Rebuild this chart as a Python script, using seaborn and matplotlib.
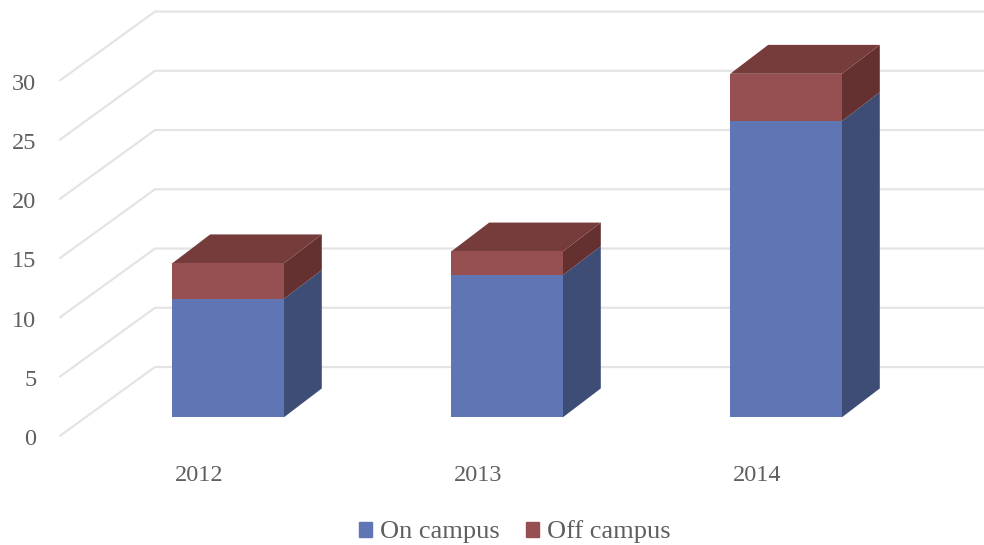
import numpy as np
import pandas as pd
import seaborn as sns
import matplotlib.pyplot as plt
from matplotlib.patches import Patch

years = ['2012', '2013', '2014']
on_campus = [10, 12, 25]
off_campus = [3, 2, 4]
y_ticks = [0, 5, 10, 15, 20, 25, 30]

blue, blue_side = '#5f75b4', '#3e4d76'
red, red_side, red_top = '#965052', '#643130', '#763c3c'
grid_col = '#e4e4e4'
text_col = '#5f5f5f'

sns.set_theme(style='white')
plt.rcParams['font.family'] = ['Liberation Serif', 'DejaVu Serif']

W, H = 984, 545
fig = plt.figure(figsize=(W / 100, H / 100), dpi=100)
ax = fig.add_axes([60 / W, (H - 437) / H, (W - 60) / W, 437 / H])

df = pd.DataFrame({'year': years, 'on': on_campus, 'off': off_campus})
df['total'] = df['on'] + df['off']

# stacked: total first, on campus over it
sns.barplot(data=df, x='year', y='total', color=red, saturation=1, width=0.4, ax=ax, zorder=3, linewidth=0)
sns.barplot(data=df, x='year', y='on', color=blue, saturation=1, width=0.4, ax=ax, zorder=3, linewidth=0)

# scale: 279 px per category, 11.88 px per unit, bars stand above the axis floor
px_x, px_y = 279, 11.88
x_left = (60 - 228) / px_x
floor = -18.5 / px_y
ax.set_xlim(x_left, (W - 228) / px_x)
ax.set_ylim(floor, 437 / px_y + floor)

# walls of the fake 3d box
wall_dx, wall_dy = 95 / px_x, 69 / px_y
for v in y_ticks:
    ax.plot([x_left, x_left + wall_dx, (W - 228) / px_x],
            [v + floor, v + floor + wall_dy, v + floor + wall_dy],
            color=grid_col, lw=1.6, zorder=1, clip_on=False)

# depth faces of the bars
dx, dy = 38 / px_x, 29 / px_y
half = 0.2
for i in range(len(years)):
    on, tot = df['on'][i], df['total'][i]
    xr = i + half
    ax.fill([xr, xr + dx, xr + dx, xr], [0, dy, on + dy, on], color=blue_side, lw=0, zorder=2)
    ax.fill([xr, xr + dx, xr + dx, xr], [on, on + dy, tot + dy, tot], color=red_side, lw=0, zorder=2)
    ax.fill([i - half, i - half + dx, xr + dx, xr], [tot, tot + dy, tot + dy, tot], color=red_top, lw=0, zorder=2)

sns.despine(ax=ax, left=True, bottom=True, top=True, right=True)
ax.set_xlabel('')
ax.set_ylabel('')
# labels sit left of the bars in the reference
ax.set_xticks(np.arange(len(years)) - 29 / px_x, years)
ax.set_yticks(np.array(y_ticks) + floor - 0.1, [str(v) for v in y_ticks])
ax.tick_params(axis='y', length=0, pad=17, labelsize=17.5, labelcolor=text_col)
ax.tick_params(axis='x', length=0, pad=20, labelsize=17.5, labelcolor=text_col)
ax.set_facecolor('none')

handles = [Patch(color=blue, label='On campus'), Patch(color=red, label='Off campus')]
fig.legend(handles=handles, loc='center', bbox_to_anchor=(515 / W, (H - 532) / H), ncol=2,
           frameon=False, fontsize=19, labelcolor=text_col, handlelength=0.5, handleheight=0.5,
           handletextpad=0.3, columnspacing=1.0)

fig.savefig('out.png', dpi=100)
